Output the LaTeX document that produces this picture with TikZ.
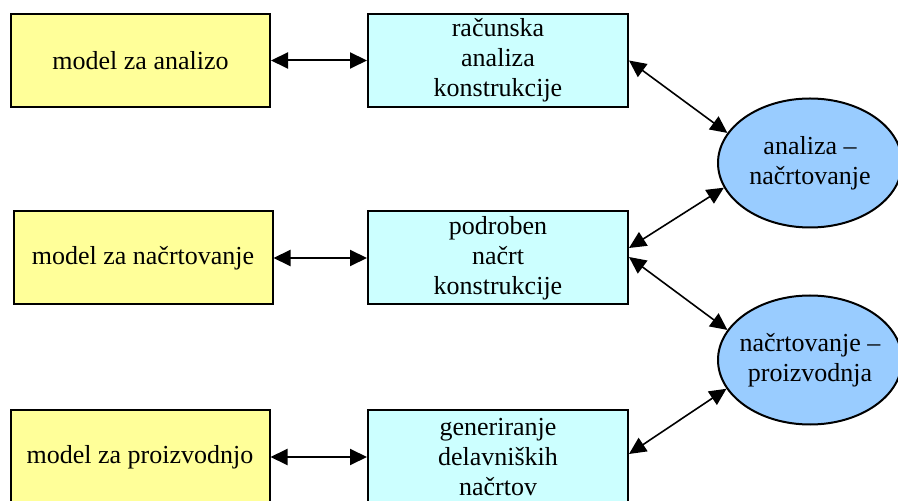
\documentclass[tikz,border=0pt]{standalone}
\usepackage{fontspec}
\setmainfont{Liberation Serif}
\usetikzlibrary{arrows.meta,shapes.geometric}
\definecolor{modelyellow}{HTML}{FFFF99}
\definecolor{taskcyan}{HTML}{CCFFFF}
\definecolor{linkblue}{HTML}{99CCFF}
\begin{document}
\begin{tikzpicture}[
  x=0.5pt, y=-0.5pt,
  every node/.style={draw, line width=1pt, font=\fontsize{13}{15}\selectfont, align=center, inner sep=0pt},
  model/.style={fill=modelyellow, minimum width=129.5pt, minimum height=46.5pt},
  task/.style={fill=taskcyan, minimum width=130pt, minimum height=46.5pt},
  link/.style={ellipse, fill=linkblue, inner xsep=-4pt, minimum width=92pt, minimum height=64.5pt},
  conn/.style={draw, line width=0.8pt, {Triangle[length=8.5pt,width=8pt]}-{Triangle[length=8.5pt,width=8pt]}}
]
  \useasboundingbox (0,0) rectangle (898,501);
  \clip (0,0) rectangle (898,501);
  % left column
  \node[model] (ma) at (140.5,60.5) {model za analizo};
  \node[model] (mn) at (143,258) {model za načrtovanje};
  \node[model] (mp) at (140,457) {model za proizvodnjo};
  % middle column
  \node[task] (rk) at (498,60.5) {računska\\analiza\\konstrukcije};
  \node[task] (pn) at (498,258) {podroben\\načrt\\konstrukcije};
  \node[task] (gd) at (498,457) {generiranje\\delavniških\\načrtov};
  % right column
  \node[link] (an) at (810,163) {analiza –\\načrtovanje};
  \node[link] (np) at (810,360) {načrtovanje –\\proizvodnja};
  % connectors
  \draw[conn, line width=1pt] (ma.east) -- (rk.west);
  \draw[conn, line width=1pt] (mn.east) -- (pn.west);
  \draw[conn, line width=1pt] (mp.east) -- (gd.west);
  \draw[conn] (rk.east) -- (an.160);
  \draw[conn] (an.196) -- ([yshift=5pt]pn.east);
  \draw[conn] ([yshift=0.5pt]pn.east) -- (np.160);
  \draw[conn] (np.199) -- ([yshift=1.5pt]gd.east);
\end{tikzpicture}
\end{document}
